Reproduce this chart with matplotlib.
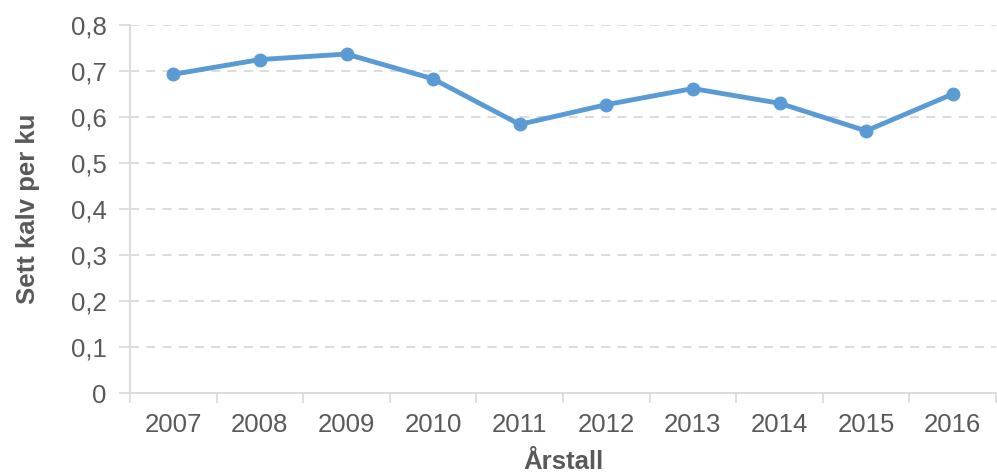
import matplotlib.pyplot as plt
import numpy as np

plt.rcParams['font.family'] = ['Liberation Sans', 'DejaVu Sans']

years = ['2007', '2008', '2009', '2010', '2011', '2012', '2013', '2014', '2015', '2016']
calves = [0.693, 0.725, 0.737, 0.683, 0.584, 0.627, 0.662, 0.630, 0.570, 0.650]
yticks = [0, 0.1, 0.2, 0.3, 0.4, 0.5, 0.6, 0.7, 0.8]
ylabels = ['0', '0,1', '0,2', '0,3', '0,4', '0,5', '0,6', '0,7', '0,8']

grey = '#D9D9D9'
text_col = '#595959'

fig = plt.figure(figsize=(9.97, 4.73), dpi=100)
ax = fig.add_axes([0.1304, 0.169, 0.8686, 0.778])

x = np.arange(len(years))
ax.plot(x, calves, color='#5B9BD5', linewidth=3.5, marker='o', markersize=9, zorder=3,
        solid_capstyle='round')

ax.set_xlim(-0.5, len(years) - 0.5)
ax.set_ylim(0, 0.8)
ax.set_yticks(yticks)
ax.set_yticklabels(ylabels)
ax.set_xticks(x)
ax.set_xticklabels(years)
ax.set_xticks(np.arange(-0.5, len(years), 1), minor=True)
ax.tick_params(axis='x', which='major', length=0, pad=14, labelsize=18.5, labelcolor=text_col)
ax.tick_params(axis='x', which='minor', length=7, width=1.2, color=grey)
ax.tick_params(axis='y', length=8, width=1.2, color=grey, pad=9, labelsize=18.5, labelcolor=text_col)

for v in yticks[1:]:
    ax.axhline(v, color=grey, linewidth=1.3, linestyle=(0, (5, 4)), zorder=1)

for s in ['top', 'right']:
    ax.spines[s].set_visible(False)
for s in ['left', 'bottom']:
    ax.spines[s].set_color(grey)
    ax.spines[s].set_linewidth(1.3)

ax.set_xlabel('Årstall', fontsize=18.5, fontweight='bold', color=text_col, labelpad=10)
ax.set_ylabel('Sett kalv per ku', fontsize=18.5, fontweight='bold', color=text_col, labelpad=22)

fig.savefig('out.png', dpi=100)
